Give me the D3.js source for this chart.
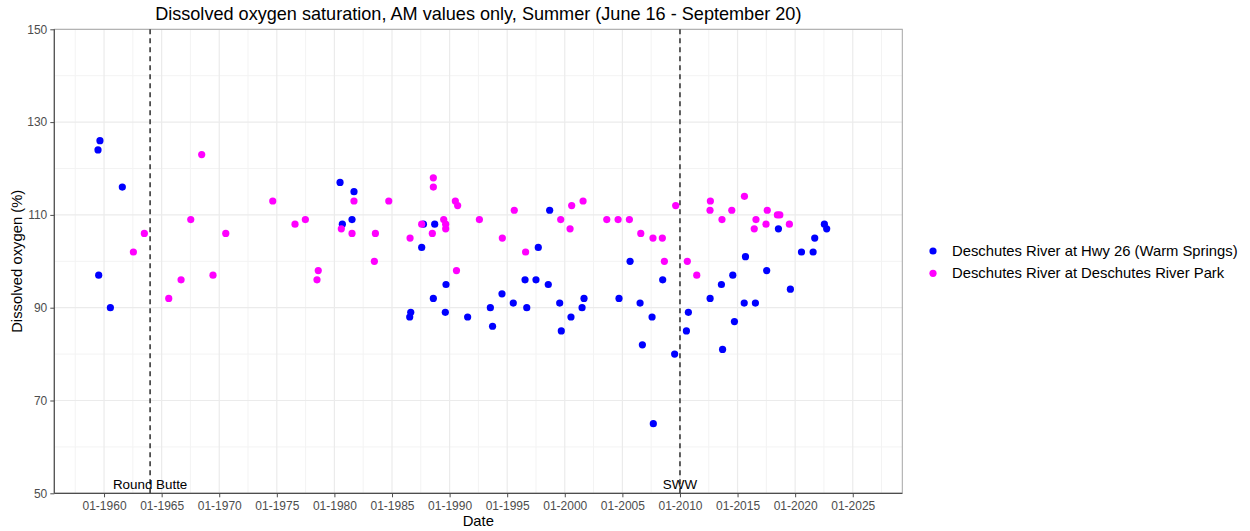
<!DOCTYPE html>
<html>
<head>
<meta charset="utf-8">
<script src="https://cdn.jsdelivr.net/npm/d3@7"></script>
<style>
  html, body { margin: 0; padding: 0; background: #fff; }
  svg { display: block; font-family: "Liberation Sans", Arial, sans-serif; }
</style>
</head>
<body>
<svg id="chart" width="1250" height="531"></svg>
<script>
// Dissolved oxygen saturation (%), morning samples, summer season
const seriesNames = [
  "Deschutes River at Hwy 26 (Warm Springs)",
  "Deschutes River at Deschutes River Park"
];
const seriesColors = ["#0000ff", "#ff00ff"];

const hwy26Dates = [
  "1959-06-24","1959-08-25","1959-07-16","1960-07-20","1961-08-03",
  "1980-06-28","1980-09-09","1981-07-13","1981-09-13",
  "1986-07-16","1986-08-18","1987-07-31","1987-09-24","1988-09-16","1988-08-03",
  "1989-09-09","1989-08-18","1991-07-27","1993-07-16","1993-09-24","1994-07-20",
  "1995-07-13","1996-07-20","1996-09-13","1997-07-02","1997-09-13","1998-09-09",
  "1998-07-27","1999-07-24","1999-09-13","2000-07-16","2001-07-02","2001-09-02",
  "2004-09-16","2005-09-02","2006-07-16","2006-09-27","2007-07-31","2007-09-09",
  "2008-07-02","2009-07-16","2010-07-24","2010-09-24","2012-08-14","2013-08-07",
  "2013-09-13","2014-08-03","2014-09-24","2015-09-09","2015-07-31","2016-07-20",
  "2017-07-13","2018-07-20","2019-08-03","2020-07-20","2021-07-24","2021-09-13",
  "2022-07-16","2022-09-27"
];
const hwy26Values = [
  124, 126, 97, 90, 116,
  117, 108, 109, 115,
  88, 89, 103, 108, 108, 92,
  95, 89, 88, 90, 86, 93,
  91, 96, 90, 96, 103, 111,
  95, 91, 85, 88, 90, 92,
  92, 100, 91, 82, 88, 65,
  96, 80, 85, 89, 92, 95,
  81, 97, 87, 101, 91, 91,
  98, 107, 94, 102, 102, 105,
  108, 107
];

const parkDates = [
  "1962-07-20","1963-07-02","1965-08-14","1966-09-09","1967-07-13","1968-06-24",
  "1969-06-17","1970-07-27","1974-08-25","1976-07-31","1977-06-24","1978-06-28",
  "1978-08-07","1980-08-07","1981-07-13","1981-09-13","1983-06-21","1983-07-24",
  "1984-09-20","1986-07-27","1987-07-31","1988-08-03","1988-08-04","1988-07-02",
  "1989-06-28","1989-08-29","1989-08-30","1990-07-02","1990-09-13","1990-08-07",
  "1992-08-03","1994-07-31","1995-08-14","1996-08-07","1999-08-25","2000-06-17",
  "2000-08-07","2001-08-03","2003-08-25","2004-08-18","2005-08-11","2006-08-07",
  "2007-08-29","2008-06-21","2008-08-25","2009-08-18","2010-08-22","2011-06-17",
  "2012-08-22","2012-08-11","2013-08-25","2014-07-02","2015-08-07","2016-08-07",
  "2016-06-13","2017-07-31","2017-06-21","2018-06-17","2018-09-02","2019-07-02"
];
const parkValues = [
  102, 106, 92, 96, 109, 123,
  97, 106, 113, 108, 109, 96,
  98, 107, 106, 113, 100, 106,
  113, 105, 108, 118, 116, 106,
  109, 108, 107, 113, 112, 98,
  109, 105, 111, 102, 109, 107,
  112, 113, 109, 109, 109, 106,
  105, 105, 100, 112, 100, 97,
  113, 111, 109, 111, 114, 109,
  107, 111, 108, 110, 110, 108
];

// Reference events marked with vertical lines
const eventDates = ["1964-01-01", "2010-01-01"];
const eventLabels = ["Round Butte", "SWW"];

const yTicks = [50, 70, 90, 110, 130, 150];
const yMinor = [60, 80, 100, 120, 140];
const xTickYears = d3.range(1960, 2026, 5);

const titleText = "Dissolved oxygen saturation, AM values only, Summer (June 16 - September 20)";
const xTitle = "Date";
const yTitle = "Dissolved oxygen (%)";

// ---- layout ----
const panel = { left: 54.3, right: 902.3, top: 29.3, bottom: 493.3 };
const toDate = s => new Date(s + "T00:00:00Z");

const x = d3.scaleUtc()
  .domain([Date.UTC(1955, 8, 7), Date.UTC(2029, 3, 21)])
  .range([panel.left, panel.right]);
const y = d3.scaleLinear().domain([50, 150]).range([panel.bottom, panel.top]);

const svg = d3.select("#chart");
const g = svg.append("g");

// grid
const xMajor = xTickYears.map(yr => new Date(Date.UTC(yr, 0, 1)));
const xMinorDates = d3.range(1957, 2030, 5).map(yr => new Date(Date.UTC(yr, 6, 2)));

g.selectAll("line.xminor").data(xMinorDates).join("line")
  .attr("x1", d => x(d)).attr("x2", d => x(d))
  .attr("y1", panel.top).attr("y2", panel.bottom)
  .attr("stroke", "#f3f3f3").attr("stroke-width", 1);
g.selectAll("line.yminor").data(yMinor).join("line")
  .attr("x1", panel.left).attr("x2", panel.right)
  .attr("y1", d => y(d)).attr("y2", d => y(d))
  .attr("stroke", "#f3f3f3").attr("stroke-width", 1);
g.selectAll("line.xmajor").data(xMajor).join("line")
  .attr("x1", d => x(d)).attr("x2", d => x(d))
  .attr("y1", panel.top).attr("y2", panel.bottom)
  .attr("stroke", "#ebebeb").attr("stroke-width", 1.2);
g.selectAll("line.ymajor").data(yTicks).join("line")
  .attr("x1", panel.left).attr("x2", panel.right)
  .attr("y1", d => y(d)).attr("y2", d => y(d))
  .attr("stroke", "#ebebeb").attr("stroke-width", 1.2);

// panel border
g.append("rect")
  .attr("x", panel.left).attr("y", panel.top)
  .attr("width", panel.right - panel.left).attr("height", panel.bottom - panel.top)
  .attr("fill", "none").attr("stroke", "#a6a6a6").attr("stroke-width", 1);

// axes
const fmt = d3.utcFormat("%m-%Y");
const xAxis = d3.axisBottom(x).tickValues(xMajor).tickFormat(fmt).tickSize(4).tickPadding(4);
const yAxis = d3.axisLeft(y).tickValues(yTicks).tickSize(4).tickPadding(3);

const gx = svg.append("g").attr("transform", `translate(0,${panel.bottom})`).call(xAxis);
const gy = svg.append("g").attr("transform", `translate(${panel.left},0)`).call(yAxis);
[gx, gy].forEach(a => {
  a.select(".domain").attr("stroke", "#4d4d4d").attr("stroke-width", 1.2);
  a.selectAll(".tick line").attr("stroke", "#4d4d4d");
  a.selectAll(".tick text")
    .attr("fill", "#4d4d4d")
    .style("font-size", "12px")
    .style("font-family", "'Liberation Sans', Arial, sans-serif");
});
gx.select(".domain").attr("d", `M${panel.left},0H${panel.right}`);
gy.select(".domain").attr("d", `M0,${panel.top}V${panel.bottom}`);

// event lines + labels
eventDates.forEach((d, i) => {
  const ex = x(toDate(d));
  svg.append("line")
    .attr("x1", ex).attr("x2", ex)
    .attr("y1", panel.top).attr("y2", panel.bottom)
    .attr("stroke", "#444").attr("stroke-width", 1.7)
    .attr("stroke-dasharray", "5,4");
  svg.append("text")
    .attr("x", ex).attr("y", 488.5)
    .attr("text-anchor", "middle")
    .attr("fill", "#000")
    .style("font-size", "13.4px")
    .text(eventLabels[i]);
});

// points
const toPts = (dates, vals) => dates.map((d, i) => ({ t: toDate(d), v: vals[i] }));
const series = [toPts(hwy26Dates, hwy26Values), toPts(parkDates, parkValues)];

series.forEach((pts, si) => {
  svg.append("g").selectAll("circle").data(pts).join("circle")
    .attr("cx", d => x(d.t))
    .attr("cy", d => y(d.v))
    .attr("r", 3.6)
    .attr("fill", seriesColors[si]);
});

// titles
svg.append("text")
  .attr("x", (panel.left + panel.right) / 2).attr("y", 20)
  .attr("text-anchor", "middle")
  .style("font-size", "18.1px").attr("fill", "#000")
  .text(titleText);
svg.append("text")
  .attr("x", (panel.left + panel.right) / 2).attr("y", 526)
  .attr("text-anchor", "middle")
  .style("font-size", "14.8px").attr("fill", "#000")
  .text(xTitle);
svg.append("text")
  .attr("transform", `translate(22,${(panel.top + panel.bottom) / 2}) rotate(-90)`)
  .attr("text-anchor", "middle")
  .style("font-size", "14.8px").attr("fill", "#000")
  .text(yTitle);

// legend
const legend = svg.append("g").attr("transform", "translate(933,251)");
seriesNames.forEach((name, i) => {
  legend.append("circle")
    .attr("cx", 0).attr("cy", i * 22.3).attr("r", 3.6)
    .attr("fill", seriesColors[i]);
  legend.append("text")
    .attr("x", 19).attr("y", i * 22.3 + 5)
    .style("font-size", "14.8px").attr("fill", "#000")
    .text(name);
});
</script>
</body>
</html>
